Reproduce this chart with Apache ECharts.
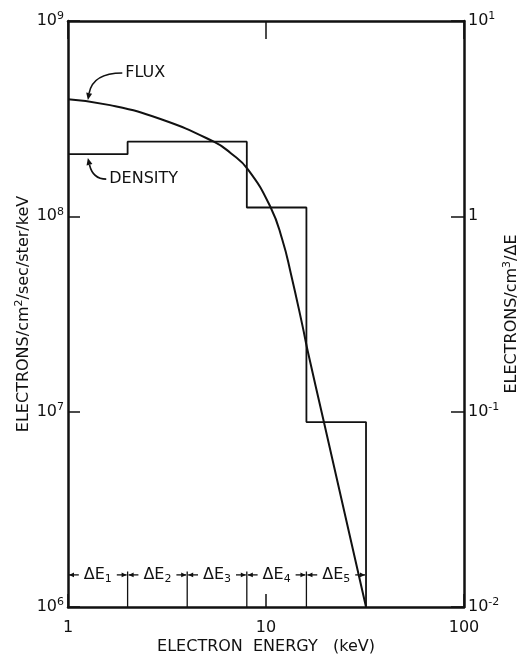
<!DOCTYPE html>
<html>
<head>
<meta charset="utf-8">
<script src="https://cdn.jsdelivr.net/npm/echarts@6/dist/echarts.min.js"></script>
<style>
  html, body { margin: 0; background: #fff; }
  #main { width: 521px; height: 658px; }
</style>
</head>
<body>
<div id="main"></div>
<script>
// flux curve (keV, electrons/cm2/sec/ster/keV)
var fluxEnergy = [1, 1.63, 2.93, 5.45, 6.62, 8.1, 10.56, 12.1, 13.33, 15.29, 16.2, 19.66, 32];
var fluxValue = [3.97e8, 3.71e8, 3.15e8, 2.41e8, 2.11e8, 1.74e8, 1.11e8, 7.56e7, 5.13e7, 2.75e7, 2.07e7, 8.74e6, 1.0e6];

// density histogram (electrons/cm3/dE, right axis)
var binEdges = [1, 2, 4, 8, 16, 32];
var binDensity = [2.08, 2.41, 2.41, 1.11, 0.0885];
var binLabels = ['1', '2', '3', '4', '5'];

// annotations
var noteText = ['FLUX', 'DENSITY'];
var noteAnchor = [[1.88, 5.42e8], [1.56, 1.55e8]];
var noteTip = [[1.26, 3.94e8], [1.26, 1.99e8]];

var ink = '#111';
var font = 'DejaVu Sans';
var arrowLevel = 1.46e6;
var edgeTickTop = 1.52e6;

var myChart = echarts.init(document.getElementById('main'));

// step outline of the histogram
var densityLine = [];
for (var i = 0; i < binDensity.length; i++) {
  densityLine.push([binEdges[i], binDensity[i]]);
  densityLine.push([binEdges[i + 1], binDensity[i]]);
}
densityLine.push([binEdges[binEdges.length - 1], 0.01]);

var fluxData = fluxEnergy.map(function (e, i) { return [e, fluxValue[i]]; });

function powLabel(v, oneAsOne) {
  var p = Math.round(Math.log10(v));
  if (p === 0 && oneAsOne) return '1';
  return '10{sup|' + p + '}';
}

var supRich = {
  sup: { fontSize: 11, fontFamily: font, color: ink, verticalAlign: 'top', padding: [0, 0, 9, 0] }
};

function renderBins(params, api) {
  var i = params.dataIndex;
  var lo = binEdges[i], hi = binEdges[i + 1];
  var a = api.coord([lo, arrowLevel]);
  var b = api.coord([hi, arrowLevel]);
  var m = api.coord([Math.sqrt(lo * hi), arrowLevel]);
  var y = a[1], half = 19;
  var ls = { stroke: ink, lineWidth: 1.3 };
  var kids = [
    { type: 'line', shape: { x1: a[0] + 1, y1: y, x2: m[0] - half, y2: y }, style: ls },
    { type: 'line', shape: { x1: m[0] + half, y1: y, x2: b[0] - 1, y2: y }, style: ls },
    { type: 'polygon', shape: { points: [[a[0] + 1, y], [a[0] + 6, y - 2.3], [a[0] + 6, y + 2.3]] }, style: { fill: ink } },
    { type: 'polygon', shape: { points: [[b[0] - 1, y], [b[0] - 6, y - 2.3], [b[0] - 6, y + 2.3]] }, style: { fill: ink } },
    {
      type: 'text',
      style: {
        text: '\u0394E{sub|' + binLabels[i] + '}',
        x: m[0], y: y, align: 'center', verticalAlign: 'middle',
        font: '16px "' + font + '"', fill: ink,
        rich: { sub: { fontSize: 11, fontFamily: font, color: ink, padding: [9, 0, 0, 0] } }
      }
    }
  ];
  if (i > 0) {
    var t0 = api.coord([lo, 1e6]), t1 = api.coord([lo, edgeTickTop]);
    kids.push({ type: 'line', shape: { x1: t0[0], y1: t0[1], x2: t1[0], y2: t1[1] }, style: ls });
  }
  return { type: 'group', children: kids };
}

function renderNotes(params, api) {
  var i = params.dataIndex;
  var p = api.coord(noteAnchor[i]);
  var t = api.coord(noteTip[i]);
  var c = [t[0] + 5, p[1]];
  var dx = t[0] - c[0], dy = t[1] - c[1];
  var len = Math.sqrt(dx * dx + dy * dy);
  var ux = dx / len, uy = dy / len;
  var bx = t[0] - ux * 7, by = t[1] - uy * 7;
  return {
    type: 'group',
    children: [
      { type: 'bezierCurve', shape: { x1: p[0], y1: p[1], x2: bx, y2: by, cpx1: c[0], cpy1: c[1] }, style: { stroke: ink, lineWidth: 1.6, fill: null } },
      { type: 'polygon', shape: { points: [[t[0], t[1]], [bx - uy * 3, by + ux * 3], [bx + uy * 3, by - ux * 3]] }, style: { fill: ink } },
      { type: 'text', style: { text: noteText[i], x: p[0] + 3, y: p[1], align: 'left', verticalAlign: 'middle', font: '16px "' + font + '"', fill: ink } }
    ]
  };
}

var option = {
  backgroundColor: '#fff',
  animation: false,
  grid: { left: 68, right: 57, top: 21, bottom: 51, outerBoundsMode: 'none', containLabel: false },
  xAxis: [
    {
      type: 'log', min: 1, max: 100, position: 'bottom',
      name: 'ELECTRON  ENERGY   (keV)', nameLocation: 'middle', nameGap: 32, nameMoveOverlap: false,
      nameTextStyle: { fontFamily: font, fontSize: 16, color: ink },
      axisLine: { lineStyle: { color: ink, width: 2.5 } },
      axisTick: { inside: true, length: 13, lineStyle: { color: ink, width: 1.5 } },
      minorTick: { show: false },
      splitLine: { show: false },
      axisLabel: { fontFamily: font, fontSize: 16, color: ink, margin: 13 }
    },
    {
      type: 'log', min: 1, max: 100, position: 'top',
      axisLine: { lineStyle: { color: ink, width: 2.5 } },
      axisTick: { inside: true, length: 18, lineStyle: { color: ink, width: 1.5 } },
      splitLine: { show: false },
      axisLabel: { show: false }
    }
  ],
  yAxis: [
    {
      type: 'log', min: 1e6, max: 1e9, position: 'left',
      name: 'ELECTRONS/cm{sup|2}/sec/ster/keV', nameLocation: 'middle', nameGap: 34, nameRotate: 90,
      nameMoveOverlap: false,
      nameTextStyle: { fontFamily: font, fontSize: 16, color: ink, rich: supRich },
      axisLine: { lineStyle: { color: ink, width: 2.5 } },
      axisTick: { inside: true, length: 12, lineStyle: { color: ink, width: 1.5 } },
      splitLine: { show: false },
      axisLabel: {
        fontFamily: font, fontSize: 16, color: ink, margin: 4, rich: supRich,
        formatter: function (v) { return powLabel(v, false); }
      }
    },
    {
      type: 'log', min: 0.01, max: 10, position: 'right',
      name: 'ELECTRONS/cm{sup|3}/\u0394E', nameLocation: 'middle', nameGap: 38, nameRotate: 90,
      nameMoveOverlap: false,
      nameTextStyle: { fontFamily: font, fontSize: 16, color: ink, rich: supRich },
      axisLine: { lineStyle: { color: ink, width: 2.5 } },
      axisTick: { inside: true, length: 13, lineStyle: { color: ink, width: 1.5 } },
      splitLine: { show: false },
      axisLabel: {
        fontFamily: font, fontSize: 16, color: ink, margin: 4, rich: supRich,
        formatter: function (v) { return powLabel(v, true); }
      }
    }
  ],
  series: [
    {
      name: 'flux', type: 'line', xAxisIndex: 0, yAxisIndex: 0,
      data: fluxData, smooth: 0.5, symbol: 'none',
      lineStyle: { color: ink, width: 2 }
    },
    {
      name: 'density', type: 'line', xAxisIndex: 0, yAxisIndex: 1,
      data: densityLine, symbol: 'none',
      lineStyle: { color: ink, width: 1.8 }
    },
    {
      name: 'bins', type: 'custom', xAxisIndex: 0, yAxisIndex: 0,
      data: binLabels.map(function (s, i) { return [binEdges[i], arrowLevel]; }),
      renderItem: renderBins, silent: true
    },
    {
      name: 'notes', type: 'custom', xAxisIndex: 0, yAxisIndex: 0,
      data: noteAnchor, renderItem: renderNotes, silent: true
    }
  ]
};

myChart.setOption(option);
</script>
</body>
</html>
